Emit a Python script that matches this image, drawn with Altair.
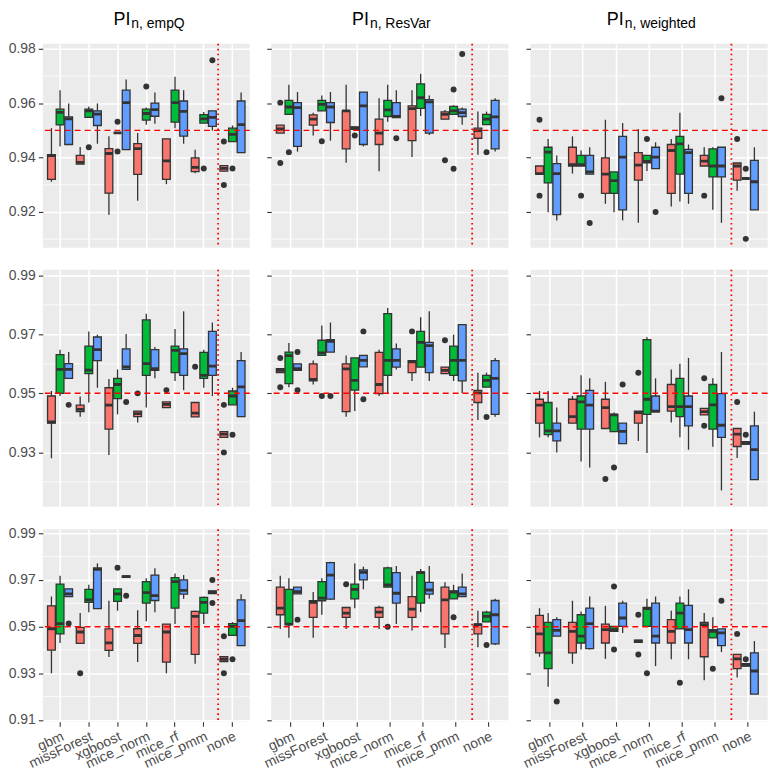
import altair as alt
import pandas as pd

METHODS = ["gbm", "missForest", "xgboost", "mice_norm", "mice_rf", "mice_pmm", "none"]
GROUPS = ["A", "B", "C"]
COLORS = ["#F8766D", "#00BA38", "#619CFF"]
TITLE_MAIN = ["PI", "PI", "PI"]
TITLE_SUB = ["n, empQ", "n, ResVar", "n, weighted"]

# each row: [lower whisker, q1, median, q3, upper whisker]; order = method x group (A, B, C)
STATS_11 = [
    [0.9311, 0.9320, 0.9407, 0.9411, 0.9508], [0.9441, 0.9520, 0.9566, 0.9578, 0.9648], [0.9448, 0.9448, 0.9542, 0.9550, 0.9599],
    [0.9376, 0.9376, 0.9382, 0.9408, 0.9439], [0.9548, 0.9548, 0.9572, 0.9578, 0.9588], [0.9451, 0.9518, 0.9560, 0.9572, 0.9599],
    [0.9190, 0.9269, 0.9415, 0.9433, 0.9478], [0.9491, 0.9491, 0.9491, 0.9491, 0.9491], [0.9429, 0.9429, 0.9602, 0.9648, 0.9687],
    [0.9241, 0.9338, 0.9433, 0.9451, 0.9490], [0.9521, 0.9538, 0.9562, 0.9578, 0.9584], [0.9524, 0.9552, 0.9576, 0.9600, 0.9639],
    [0.9302, 0.9320, 0.9388, 0.9469, 0.9469], [0.9508, 0.9530, 0.9602, 0.9648, 0.9697], [0.9451, 0.9479, 0.9570, 0.9608, 0.9648],
    [0.9342, 0.9348, 0.9364, 0.9399, 0.9429], [0.9527, 0.9527, 0.9542, 0.9558, 0.9568], [0.9499, 0.9515, 0.9548, 0.9572, 0.9572],
    [0.9350, 0.9350, 0.9360, 0.9370, 0.9370], [0.9459, 0.9459, 0.9485, 0.9508, 0.9518], [0.9418, 0.9418, 0.9521, 0.9608, 0.9639],
]
OUT_11 = [("xgboost", "B", 0.9532), ("xgboost", "B", 0.9422), ("missForest", "B", 0.9438), ("mice_norm", "B", 0.9661),
          ("mice_pmm", "B", 0.9360), ("mice_pmm", "C", 0.9758), ("none", "A", 0.9459), ("none", "A", 0.9299), ("none", "B", 0.9360)]

STATS_12 = [
    [0.9490, 0.9490, 0.9505, 0.9519, 0.9519], [0.9559, 0.9559, 0.9586, 0.9610, 0.9668], [0.9422, 0.9441, 0.9584, 0.9602, 0.9641],
    [0.9481, 0.9519, 0.9541, 0.9557, 0.9565], [0.9572, 0.9572, 0.9596, 0.9610, 0.9628], [0.9462, 0.9529, 0.9586, 0.9602, 0.9641],
    [0.9381, 0.9432, 0.9572, 0.9572, 0.9668], [0.9504, 0.9504, 0.9508, 0.9513, 0.9513], [0.9441, 0.9448, 0.9590, 0.9641, 0.9641],
    [0.9350, 0.9448, 0.9490, 0.9541, 0.9618], [0.9532, 0.9551, 0.9575, 0.9610, 0.9668], [0.9547, 0.9547, 0.9551, 0.9602, 0.9648],
    [0.9402, 0.9462, 0.9580, 0.9590, 0.9648], [0.9553, 0.9581, 0.9620, 0.9671, 0.9708], [0.9483, 0.9490, 0.9605, 0.9613, 0.9628],
    [0.9541, 0.9541, 0.9559, 0.9568, 0.9575], [0.9559, 0.9559, 0.9572, 0.9588, 0.9592], [0.9521, 0.9551, 0.9565, 0.9578, 0.9584],
    [0.9410, 0.9471, 0.9499, 0.9508, 0.9569], [0.9521, 0.9521, 0.9541, 0.9559, 0.9569], [0.9422, 0.9432, 0.9550, 0.9610, 0.9618],
]
OUT_12 = [("gbm", "A", 0.9602), ("gbm", "A", 0.9380), ("gbm", "B", 0.9420), ("missForest", "B", 0.9460), ("xgboost", "B", 0.9481),
          ("mice_norm", "C", 0.9471), ("mice_pmm", "A", 0.9390), ("mice_pmm", "B", 0.9650), ("mice_pmm", "B", 0.9359),
          ("mice_pmm", "C", 0.9781), ("none", "B", 0.9420)]

STATS_13 = [
    [0.9339, 0.9339, 0.9341, 0.9369, 0.9369], [0.9199, 0.9307, 0.9420, 0.9438, 0.9468], [0.9169, 0.9190, 0.9341, 0.9378, 0.9408],
    [0.9341, 0.9369, 0.9374, 0.9438, 0.9478], [0.9369, 0.9369, 0.9374, 0.9408, 0.9426], [0.9339, 0.9339, 0.9347, 0.9408, 0.9438],
    [0.9230, 0.9268, 0.9339, 0.9399, 0.9539], [0.9199, 0.9268, 0.9315, 0.9347, 0.9347], [0.9169, 0.9208, 0.9402, 0.9478, 0.9527],
    [0.9160, 0.9317, 0.9372, 0.9418, 0.9505], [0.9351, 0.9381, 0.9386, 0.9408, 0.9408], [0.9359, 0.9359, 0.9402, 0.9438, 0.9456],
    [0.9220, 0.9268, 0.9426, 0.9448, 0.9468], [0.9238, 0.9339, 0.9450, 0.9478, 0.9565], [0.9230, 0.9268, 0.9418, 0.9430, 0.9448],
    [0.9369, 0.9369, 0.9387, 0.9408, 0.9438], [0.9208, 0.9329, 0.9369, 0.9432, 0.9438], [0.9160, 0.9329, 0.9369, 0.9438, 0.9438],
    [0.9278, 0.9317, 0.9369, 0.9380, 0.9380], [0.9323, 0.9323, 0.9323, 0.9323, 0.9323], [0.9208, 0.9208, 0.9311, 0.9390, 0.9438],
]
OUT_13 = [("gbm", "A", 0.9539), ("gbm", "A", 0.9260), ("missForest", "B", 0.9260), ("missForest", "C", 0.9159),
          ("mice_norm", "B", 0.9468), ("mice_norm", "C", 0.9200), ("mice_pmm", "A", 0.9260), ("mice_pmm", "C", 0.9618),
          ("none", "A", 0.9468), ("none", "B", 0.9359), ("none", "B", 0.9101)]

STATS_21 = [
    [0.9280, 0.9399, 0.9403, 0.9491, 0.9508], [0.9491, 0.9500, 0.9581, 0.9631, 0.9648], [0.9551, 0.9551, 0.9581, 0.9601, 0.9640],
    [0.9421, 0.9438, 0.9446, 0.9460, 0.9489], [0.9469, 0.9567, 0.9579, 0.9660, 0.9710], [0.9519, 0.9611, 0.9648, 0.9691, 0.9699],
    [0.9291, 0.9379, 0.9460, 0.9519, 0.9549], [0.9429, 0.9482, 0.9530, 0.9551, 0.9581], [0.9581, 0.9581, 0.9590, 0.9651, 0.9701],
    [0.9401, 0.9421, 0.9431, 0.9440, 0.9440], [0.9452, 0.9561, 0.9601, 0.9749, 0.9770], [0.9551, 0.9578, 0.9584, 0.9648, 0.9657],
    [0.9452, 0.9452, 0.9463, 0.9471, 0.9471], [0.9542, 0.9570, 0.9646, 0.9660, 0.9718], [0.9511, 0.9561, 0.9635, 0.9651, 0.9778],
    [0.9420, 0.9420, 0.9433, 0.9469, 0.9469], [0.9519, 0.9551, 0.9561, 0.9639, 0.9648], [0.9491, 0.9561, 0.9592, 0.9710, 0.9740],
    [0.9351, 0.9351, 0.9362, 0.9370, 0.9370], [0.9461, 0.9461, 0.9491, 0.9508, 0.9519], [0.9421, 0.9421, 0.9522, 0.9611, 0.9640],
]
OUT_21 = [("gbm", "C", 0.9461), ("xgboost", "C", 0.9471), ("mice_norm", "A", 0.9500), ("mice_rf", "A", 0.9511),
          ("mice_pmm", "A", 0.9590), ("none", "A", 0.9461), ("none", "A", 0.9300), ("none", "B", 0.9360)]

STATS_22 = [
    [0.9570, 0.9570, 0.9578, 0.9584, 0.9584], [0.9521, 0.9533, 0.9628, 0.9640, 0.9671], [0.9578, 0.9578, 0.9584, 0.9600, 0.9600],
    [0.9530, 0.9542, 0.9547, 0.9600, 0.9611], [0.9629, 0.9629, 0.9637, 0.9680, 0.9730], [0.9640, 0.9640, 0.9676, 0.9682, 0.9740],
    [0.9421, 0.9438, 0.9583, 0.9600, 0.9628], [0.9440, 0.9511, 0.9544, 0.9620, 0.9620], [0.9590, 0.9590, 0.9612, 0.9629, 0.9629],
    [0.9491, 0.9499, 0.9530, 0.9639, 0.9648], [0.9500, 0.9561, 0.9612, 0.9770, 0.9789], [0.9581, 0.9589, 0.9612, 0.9651, 0.9669],
    [0.9542, 0.9570, 0.9607, 0.9611, 0.9611], [0.9589, 0.9589, 0.9673, 0.9710, 0.9758], [0.9542, 0.9570, 0.9662, 0.9673, 0.9778],
    [0.9567, 0.9567, 0.9578, 0.9589, 0.9589], [0.9542, 0.9561, 0.9612, 0.9660, 0.9699], [0.9500, 0.9542, 0.9612, 0.9733, 0.9733],
    [0.9410, 0.9469, 0.9502, 0.9510, 0.9570], [0.9521, 0.9521, 0.9544, 0.9561, 0.9570], [0.9421, 0.9429, 0.9551, 0.9611, 0.9620],
]
OUT_22 = [("gbm", "A", 0.9620), ("gbm", "A", 0.9521), ("gbm", "C", 0.9640), ("gbm", "C", 0.9511), ("missForest", "B", 0.9491),
          ("missForest", "C", 0.9491), ("xgboost", "C", 0.9710), ("xgboost", "C", 0.9480), ("mice_rf", "A", 0.9710),
          ("mice_pmm", "A", 0.9680), ("none", "B", 0.9420)]

STATS_23 = [
    [0.9351, 0.9399, 0.9460, 0.9480, 0.9508], [0.9351, 0.9360, 0.9373, 0.9469, 0.9508], [0.9300, 0.9339, 0.9373, 0.9399, 0.9452],
    [0.9399, 0.9399, 0.9421, 0.9480, 0.9491], [0.9269, 0.9379, 0.9471, 0.9491, 0.9561], [0.9249, 0.9379, 0.9460, 0.9510, 0.9551],
    [0.9381, 0.9381, 0.9452, 0.9480, 0.9539], [0.9370, 0.9370, 0.9427, 0.9429, 0.9435], [0.9330, 0.9330, 0.9371, 0.9399, 0.9399],
    [0.9339, 0.9399, 0.9435, 0.9440, 0.9440], [0.9298, 0.9429, 0.9480, 0.9682, 0.9690], [0.9437, 0.9437, 0.9440, 0.9491, 0.9551],
    [0.9401, 0.9440, 0.9455, 0.9530, 0.9581], [0.9351, 0.9421, 0.9455, 0.9551, 0.9600], [0.9309, 0.9390, 0.9455, 0.9491, 0.9620],
    [0.9427, 0.9427, 0.9438, 0.9449, 0.9449], [0.9319, 0.9379, 0.9461, 0.9530, 0.9551], [0.9171, 0.9351, 0.9392, 0.9499, 0.9640],
    [0.9281, 0.9320, 0.9362, 0.9381, 0.9381], [0.9328, 0.9328, 0.9331, 0.9336, 0.9336], [0.9208, 0.9208, 0.9309, 0.9390, 0.9438],
]
OUT_23 = [("xgboost", "A", 0.9210), ("xgboost", "B", 0.9249), ("xgboost", "C", 0.9530), ("mice_norm", "A", 0.9570),
          ("mice_pmm", "A", 0.9551), ("mice_pmm", "A", 0.9390), ("none", "A", 0.9471), ("none", "B", 0.9360)]

STATS_31 = [
    [0.9300, 0.9399, 0.9491, 0.9589, 0.9629], [0.9430, 0.9469, 0.9513, 0.9682, 0.9718], [0.9629, 0.9629, 0.9640, 0.9662, 0.9662],
    [0.9428, 0.9428, 0.9477, 0.9497, 0.9558], [0.9562, 0.9604, 0.9615, 0.9660, 0.9679], [0.9577, 0.9577, 0.9745, 0.9752, 0.9771],
    [0.9370, 0.9398, 0.9430, 0.9490, 0.9611], [0.9568, 0.9608, 0.9640, 0.9662, 0.9662], [0.9711, 0.9711, 0.9714, 0.9717, 0.9717],
    [0.9348, 0.9428, 0.9462, 0.9491, 0.9570], [0.9523, 0.9601, 0.9646, 0.9693, 0.9707], [0.9562, 0.9612, 0.9633, 0.9721, 0.9750],
    [0.9300, 0.9348, 0.9477, 0.9511, 0.9511], [0.9511, 0.9579, 0.9693, 0.9710, 0.9728], [0.9619, 0.9639, 0.9655, 0.9700, 0.9721],
    [0.9341, 0.9381, 0.9544, 0.9565, 0.9568], [0.9511, 0.9558, 0.9604, 0.9625, 0.9629], [0.9642, 0.9642, 0.9648, 0.9653, 0.9653],
    [0.9350, 0.9350, 0.9360, 0.9371, 0.9371], [0.9463, 0.9463, 0.9501, 0.9513, 0.9520], [0.9419, 0.9419, 0.9526, 0.9615, 0.9639],
]
OUT_31 = [("gbm", "C", 0.9513), ("missForest", "A", 0.9300), ("xgboost", "B", 0.9752), ("xgboost", "C", 0.9632),
          ("mice_pmm", "C", 0.9700), ("mice_pmm", "C", 0.9601), ("none", "A", 0.9459), ("none", "A", 0.9300), ("none", "B", 0.9360)]

STATS_32 = [
    [0.9490, 0.9551, 0.9579, 0.9669, 0.9718], [0.9452, 0.9509, 0.9511, 0.9660, 0.9707], [0.9640, 0.9640, 0.9650, 0.9669, 0.9669],
    [0.9452, 0.9540, 0.9604, 0.9611, 0.9648], [0.9551, 0.9611, 0.9622, 0.9693, 0.9707], [0.9615, 0.9618, 0.9721, 0.9774, 0.9778],
    [0.9490, 0.9540, 0.9558, 0.9582, 0.9582], [0.9579, 0.9619, 0.9660, 0.9682, 0.9771], [0.9660, 0.9700, 0.9733, 0.9743, 0.9757],
    [0.9490, 0.9540, 0.9562, 0.9582, 0.9589], [0.9669, 0.9669, 0.9679, 0.9752, 0.9757], [0.9511, 0.9601, 0.9643, 0.9731, 0.9760],
    [0.9483, 0.9540, 0.9575, 0.9629, 0.9718], [0.9562, 0.9601, 0.9731, 0.9735, 0.9747], [0.9619, 0.9639, 0.9657, 0.9690, 0.9760],
    [0.9409, 0.9469, 0.9615, 0.9669, 0.9690], [0.9619, 0.9619, 0.9648, 0.9653, 0.9679], [0.9629, 0.9629, 0.9640, 0.9669, 0.9728],
    [0.9412, 0.9469, 0.9509, 0.9511, 0.9568], [0.9520, 0.9520, 0.9544, 0.9562, 0.9568], [0.9421, 0.9426, 0.9551, 0.9612, 0.9619],
]
OUT_32 = [("gbm", "C", 0.9530), ("xgboost", "A", 0.9682), ("mice_norm", "B", 0.9500), ("mice_pmm", "B", 0.9540), ("none", "B", 0.9421)]

STATS_33 = [
    [0.9371, 0.9388, 0.9469, 0.9548, 0.9579], [0.9242, 0.9320, 0.9388, 0.9518, 0.9558], [0.9459, 0.9459, 0.9484, 0.9530, 0.9540],
    [0.9341, 0.9388, 0.9480, 0.9518, 0.9611], [0.9402, 0.9430, 0.9459, 0.9551, 0.9565], [0.9402, 0.9406, 0.9513, 0.9579, 0.9629],
    [0.9362, 0.9430, 0.9487, 0.9511, 0.9589], [0.9480, 0.9480, 0.9487, 0.9501, 0.9501], [0.9473, 0.9501, 0.9537, 0.9601, 0.9611],
    [0.9433, 0.9433, 0.9438, 0.9442, 0.9442], [0.9501, 0.9501, 0.9577, 0.9582, 0.9619], [0.9331, 0.9430, 0.9459, 0.9601, 0.9629],
    [0.9360, 0.9430, 0.9480, 0.9530, 0.9568], [0.9490, 0.9490, 0.9558, 0.9601, 0.9629], [0.9360, 0.9430, 0.9487, 0.9591, 0.9660],
    [0.9270, 0.9371, 0.9509, 0.9518, 0.9558], [0.9452, 0.9452, 0.9480, 0.9487, 0.9540], [0.9391, 0.9419, 0.9473, 0.9490, 0.9490],
    [0.9282, 0.9320, 0.9362, 0.9381, 0.9381], [0.9331, 0.9331, 0.9335, 0.9341, 0.9341], [0.9211, 0.9211, 0.9310, 0.9388, 0.9438],
]
OUT_33 = [("gbm", "C", 0.9179), ("xgboost", "B", 0.9672), ("xgboost", "B", 0.9402), ("mice_norm", "A", 0.9551),
          ("mice_norm", "A", 0.9381), ("mice_norm", "B", 0.9300), ("mice_rf", "B", 0.9260), ("mice_pmm", "B", 0.9320),
          ("mice_pmm", "C", 0.9611), ("none", "A", 0.9469), ("none", "B", 0.9360)]

STATS = [[STATS_11, STATS_12, STATS_13], [STATS_21, STATS_22, STATS_23], [STATS_31, STATS_32, STATS_33]]
OUTS = [[OUT_11, OUT_12, OUT_13], [OUT_21, OUT_22, OUT_23], [OUT_31, OUT_32, OUT_33]]

TARGET = [0.95]
VLINE_AT = ["none"]

Y_DOMAIN = [[0.90683, 0.98183], [0.91156, 0.99192], [0.90928, 0.99171]]
Y_MAJOR = [[0.92, 0.94, 0.96, 0.98], [0.93, 0.95, 0.97, 0.99], [0.91, 0.93, 0.95, 0.97, 0.99]]
Y_MINOR = [[0.91, 0.93, 0.95, 0.97], [0.92, 0.94, 0.96, 0.98], [0.92, 0.94, 0.96, 0.98]]

# layout (styling only)
FONT = "Liberation Sans"
PANEL_W = [208, 238.4, 238.4]
PANEL_H = [205, 238.4, 193.4]
SPLIT = [-16, -21, -25.5]
DARK = "#333333"


def stats_frame(stats):
    rows = []
    for i, s in enumerate(stats):
        rows.append({"method": METHODS[i // 3], "group": GROUPS[i % 3],
                     "lo": s[0], "q1": s[1], "med": s[2], "q3": s[3], "hi": s[4]})
    return pd.DataFrame(rows)


def panel(r, c):
    W, H = PANEL_W[c], PANEL_H[r]
    xs = alt.Scale(domain=METHODS, paddingInner=0, paddingOuter=0.1)
    xo = alt.Scale(domain=GROUPS, paddingInner=0.1, paddingOuter=0.2167)
    ys = alt.Scale(domain=Y_DOMAIN[r], nice=False, zero=False)
    bottom = (r == 2)
    xaxis = alt.Axis(title=None, labels=bottom, labelAngle=-25, labelAlign="right", labelBaseline="top",
                     labelPadding=3, labelFontSize=14, labelFont=FONT, labelColor="#4D4D4D",
                     ticks=bottom, tickSize=4.5, tickColor=DARK, tickWidth=1.1,
                     grid=True, gridColor="white", gridWidth=1.6, domain=False)
    yaxis = alt.Axis(title=None, values=Y_MAJOR[r], format=".2f", labels=(c == 0),
                     labelPadding=3, labelFontSize=14, labelFont=FONT, labelColor="#4D4D4D",
                     ticks=True, tickSize=4.5, tickColor=DARK, tickWidth=1.1,
                     grid=True, gridColor="white", gridWidth=1.6, domain=False)
    X = alt.X("method:N", scale=xs, axis=xaxis, sort=METHODS)
    XO = alt.XOffset("group:N", scale=xo, sort=GROUPS)

    df = stats_frame(STATS[r][c])
    base = alt.Chart(df)
    odf = pd.DataFrame(OUTS[r][c], columns=["method", "group", "v"])

    minor = alt.Chart(pd.DataFrame({"v": Y_MINOR[r]})).mark_rule(color="white", strokeWidth=0.8).encode(
        y=alt.Y("v:Q", scale=ys, axis=yaxis))
    whisk = base.mark_rule(color=DARK, strokeWidth=1.3).encode(
        x=X, xOffset=XO, y=alt.Y("lo:Q", scale=ys, axis=yaxis), y2="hi:Q")
    box = base.mark_bar(stroke=DARK, strokeWidth=1.3, opacity=1).encode(
        x=X, xOffset=XO, y=alt.Y("q1:Q", scale=ys, axis=yaxis), y2="q3:Q",
        color=alt.Color("group:N", scale=alt.Scale(domain=GROUPS, range=COLORS), legend=None))
    med = base.mark_bar(stroke=DARK, strokeWidth=2.8, fill=DARK).encode(
        x=X, xOffset=XO, y=alt.Y("med:Q", scale=ys, axis=yaxis), y2="med:Q")
    outl = alt.Chart(odf).mark_circle(size=36, color=DARK, opacity=1).encode(
        x=X, xOffset=XO, y=alt.Y("v:Q", scale=ys, axis=yaxis))
    hline = alt.Chart(pd.DataFrame({"v": TARGET})).mark_rule(color="#FF0000", strokeDash=[6, 4], strokeWidth=1.5).encode(
        y=alt.Y("v:Q", scale=ys, axis=yaxis))
    vline = alt.Chart(pd.DataFrame({"method": VLINE_AT})).mark_rule(color="#FF0000", strokeDash=[1.6, 3.4], strokeWidth=1.8).encode(
        x=alt.X("method:N", scale=xs, axis=xaxis, sort=METHODS, bandPosition=0))

    layers = [minor, whisk, box, med, outl, hline, vline]
    if r == 0:
        tdf = pd.DataFrame({"main": [TITLE_MAIN[c]], "sub": [TITLE_SUB[c]]})
        t1 = alt.Chart(tdf).mark_text(align="right", baseline="alphabetic", fontSize=18, font=FONT, color="black").encode(
            text="main:N", x=alt.value(W / 2 + SPLIT[c]), y=alt.value(-19.4))
        t2 = alt.Chart(tdf).mark_text(align="left", baseline="alphabetic", fontSize=14, font=FONT, color="black").encode(
            text="sub:N", x=alt.value(W / 2 + SPLIT[c] + 1), y=alt.value(-16))
        layers += [t1, t2]
    return alt.layer(*layers).properties(width=W, height=H)


panels = [panel(r, c) for r in range(3) for c in range(3)]
chart = alt.concat(*panels, columns=3, spacing={"row": 22, "column": 21.6}, bounds="flush").configure_view(
    fill="#EBEBEB", stroke=None).properties(padding={"left": 0, "top": 0, "right": 5, "bottom": 5})

chart.save("out.html", embed_options={"renderer": "svg", "actions": False})
